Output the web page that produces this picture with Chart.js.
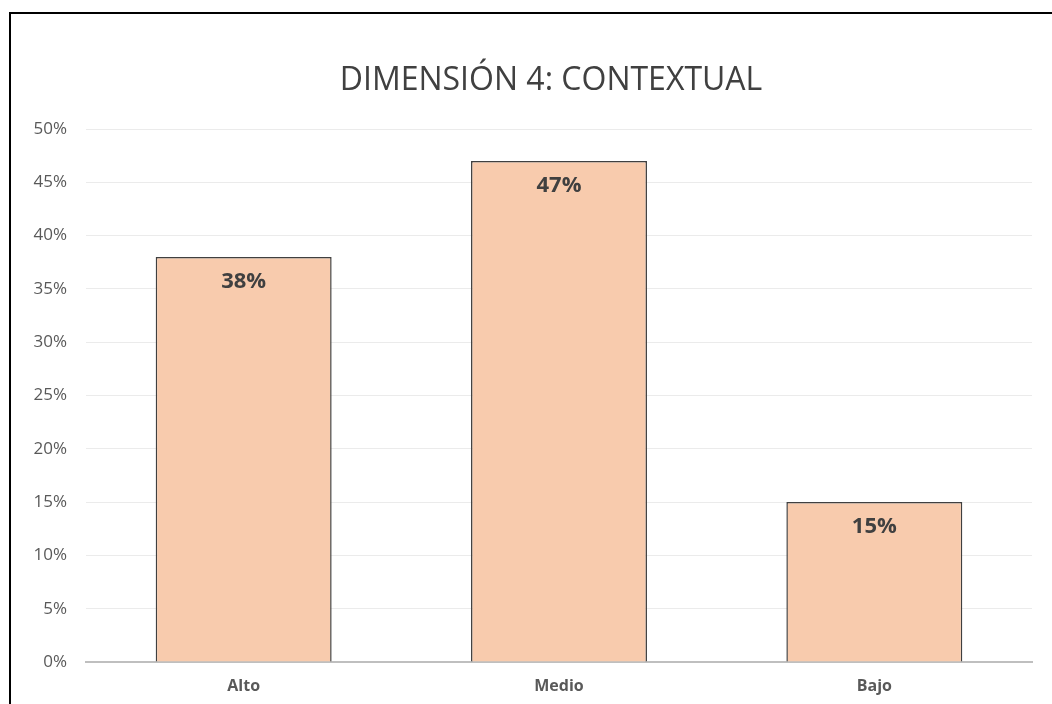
<!DOCTYPE html>
<html>
<head>
<meta charset="utf-8">
<script src="https://cdn.jsdelivr.net/npm/chart.js@4/dist/chart.umd.min.js"></script>
<style>
  html, body { margin: 0; padding: 0; background: #fff; }
  #wrap { position: absolute; left: 0; top: 0; width: 1052px; height: 704px; overflow: hidden; }
  #frame { position: absolute; left: 9px; top: 12px; width: 1100px; height: 800px; border: 2px solid #000; pointer-events: none; }
  canvas { position: absolute; left: 0; top: 0; }
</style>
</head>
<body>
<div id="wrap">
  <canvas id="c" width="1052" height="704"></canvas>
  <div id="frame"></div>
</div>
<script>
const categories = ['Alto', 'Medio', 'Bajo'];
const values = [38, 47, 15];
const valueLabels = ['38%', '47%', '15%'];
const titleText = 'DIMENSIÓN 4: CONTEXTUAL';

const FONT = "'Open Sans', 'DejaVu Sans', sans-serif";

const labelPlugin = {
  id: 'barLabels',
  afterDatasetsDraw(chart) {
    const ctx = chart.ctx;
    const meta = chart.getDatasetMeta(0);
    ctx.save();
    ctx.font = 'bold 22px ' + FONT;
    ctx.fillStyle = '#404040';
    ctx.textAlign = 'center';
    ctx.textBaseline = 'middle';
    meta.data.forEach((bar, i) => {
      ctx.fillText(valueLabels[i], bar.x, bar.y + 25);
    });
    ctx.restore();
  }
};

const titlePlugin = {
  id: 'offsetTitle',
  afterDraw(chart) {
    const ctx = chart.ctx;
    ctx.save();
    ctx.font = '32px ' + FONT;
    ctx.fillStyle = '#404040';
    ctx.textAlign = 'center';
    ctx.textBaseline = 'middle';
    ctx.fillText(titleText, 551, 81);
    ctx.restore();
  }
};

new Chart(document.getElementById('c'), {
  type: 'bar',
  data: {
    labels: categories,
    datasets: [{
      data: values,
      backgroundColor: '#F8CBAD',
      borderColor: '#404040',
      borderWidth: 1.5,
      barPercentage: 0.558,
      categoryPercentage: 1.0
    }]
  },
  options: {
    responsive: false,
    animation: false,
    layout: { padding: { left: 0, right: 20, top: 129, bottom: 0 } },
    plugins: {
      legend: { display: false },
      tooltip: { enabled: false },
      title: { display: false }
    },
    scales: {
      x: {
        grid: { display: false, drawTicks: false },
        border: { display: true, color: '#BFBFBF', width: 2 },
        ticks: { color: '#595959', font: { family: FONT, size: 16, weight: 'bold' }, padding: 15 },
        afterFit(scale) { scale.height = 42; }
      },
      y: {
        min: 0, max: 50,
        grid: { color: '#EBEBEB', lineWidth: 1, drawTicks: false },
        border: { display: false },
        ticks: {
          stepSize: 5,
          color: '#595959',
          font: { family: FONT, size: 17 },
          padding: 19,
          callback: v => v + '%'
        },
        afterFit(scale) { scale.width = 86; }
      }
    }
  },
  plugins: [labelPlugin, titlePlugin]
});
</script>
</body>
</html>
